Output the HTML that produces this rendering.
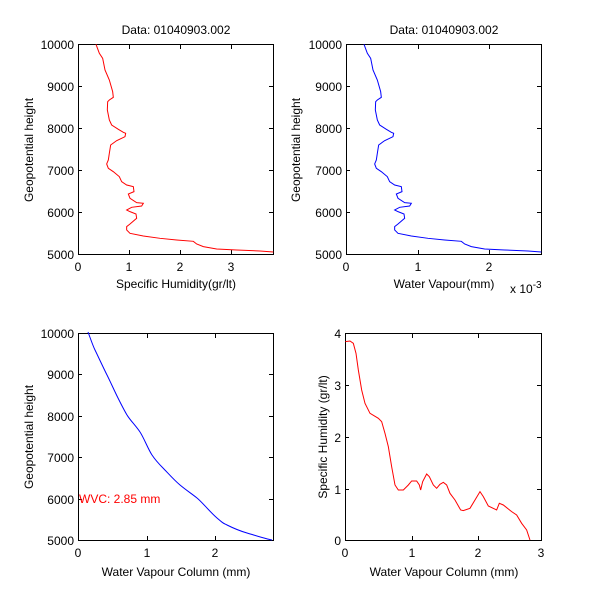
<!DOCTYPE html>
<html><head><style>
body{margin:0;background:#fff;}
svg{font-family:"Liberation Sans",Arial,sans-serif;font-size:12px;}
</style></head><body>
<svg width="600" height="610" viewBox="0 0 600 610" xmlns="http://www.w3.org/2000/svg">
<rect width="600" height="610" fill="#fff"/>
<defs>
<path id="sh" d="M108,73 L118,100 128,115 135,150 148,180 158,215 160,232 148,240 143,245 142,270 148,300 155,315 175,328 190,337 197,340 195,350 170,362 152,375 148,400 145,420 140,432 145,445 160,455 178,470 185,485 200,495 220,500 222,515 205,522 210,535 230,548 250,550 245,558 215,562 200,570 210,575 228,582 230,595 210,612 200,620 200,630 210,640 250,648 300,655 350,660 400,664 410,672 430,680 470,687 530,690 600,693 640,696"/>
</defs>
<g fill="none" stroke="#000" stroke-width="1">
<rect x="78.5" y="44.5" width="195" height="210"/>
<rect x="346.5" y="44.5" width="195" height="210"/>
<rect x="78.5" y="333.5" width="195" height="207"/>
<rect x="345.5" y="333.5" width="196" height="207"/>
<path d="M129.5,254v-4M180.5,254v-4M231.5,254v-4M129.5,45v4M180.5,45v4M231.5,45v4M78,86.5h4M78,128.5h4M78,170.5h4M78,212.5h4M273,86.5h-4M273,128.5h-4M273,170.5h-4M273,212.5h-4"/>
<path d="M418.5,254v-4M489.5,254v-4M418.5,45v4M489.5,45v4M346,86.5h4M346,128.5h4M346,170.5h4M346,212.5h4M541,86.5h-4M541,128.5h-4M541,170.5h-4M541,212.5h-4"/>
<path d="M147.5,540v-4M215.5,540v-4M147.5,334v4M215.5,334v4M78,374.5h4M78,416.5h4M78,457.5h4M78,499.5h4M273,374.5h-4M273,416.5h-4M273,457.5h-4M273,499.5h-4"/>
<path d="M412.5,540v-4M478.5,540v-4M412.5,334v4M478.5,334v4M345,385.5h4M345,437.5h4M345,489.5h4M541,385.5h-4M541,437.5h-4M541,489.5h-4"/>
</g>
<g transform="translate(60,20) scale(0.3333)"><use href="#sh" fill="none" stroke="#f00" stroke-width="3"/></g>
<g transform="translate(328,20) scale(0.3333)"><use href="#sh" fill="none" stroke="#00f" stroke-width="3"/></g>
<path d="M88,332 C91,340 93,346 95,350 S103,367 107,375 S114,390 118,398 S124,410 127,415 S136,426 140,432 S148,449 152,455 S159,464 163,468 S174,480 180,485 S192,494 197,498 S210,512 217,518 S223,523 227,525 S240,531 247,533 S266,539 272,540" fill="none" stroke="#00f"/>
<g transform="translate(330,320) scale(0.3333)"><path d="M46,65 L60,63 70,70 78,100 85,150 95,210 105,250 120,280 145,295 155,305 165,340 175,380 185,440 195,495 205,510 220,510 235,495 245,483 260,483 268,495 272,510 278,485 290,462 298,470 310,495 320,505 330,493 340,487 350,495 360,520 375,540 392,570 400,572 420,565 435,540 450,515 460,530 475,558 500,570 508,550 520,555 545,575 560,585 575,610 590,630 600,660" fill="none" stroke="#f00" stroke-width="3"/></g>
<g fill="#000">
<text x="176" y="34" text-anchor="middle">Data: 01040903.002</text>
<text x="444" y="34" text-anchor="middle">Data: 01040903.002</text>
<g text-anchor="end">
<text x="74" y="49">10000</text><text x="74" y="91">9000</text><text x="74" y="133">8000</text><text x="74" y="175">7000</text><text x="74" y="217">6000</text><text x="74" y="259">5000</text>
<text x="342" y="49">10000</text><text x="342" y="91">9000</text><text x="342" y="133">8000</text><text x="342" y="175">7000</text><text x="342" y="217">6000</text><text x="342" y="259">5000</text>
<text x="74" y="338">10000</text><text x="74" y="379">9000</text><text x="74" y="421">8000</text><text x="74" y="462">7000</text><text x="74" y="504">6000</text><text x="74" y="545">5000</text>
<text x="341" y="338">4</text><text x="341" y="390">3</text><text x="341" y="442">2</text><text x="341" y="494">1</text><text x="341" y="545">0</text>
</g>
<g text-anchor="middle">
<text x="78" y="271">0</text><text x="129" y="271">1</text><text x="180" y="271">2</text><text x="231" y="271">3</text>
<text x="346" y="271">0</text><text x="418" y="271">1</text><text x="489" y="271">2</text>
<text x="78" y="557">0</text><text x="147" y="557">1</text><text x="215" y="557">2</text>
<text x="345" y="557">0</text><text x="412" y="557">1</text><text x="478" y="557">2</text><text x="541" y="557">3</text>
<text x="176" y="288">Specific Humidity(gr/lt)</text>
<text x="444" y="288">Water Vapour(mm)</text>
<text x="176" y="576">Water Vapour Column (mm)</text>
<text x="444" y="576">Water Vapour Column (mm)</text>
<text transform="translate(33,150) rotate(-90)">Geopotential height</text>
<text transform="translate(300,150) rotate(-90)">Geopotential height</text>
<text transform="translate(33,437) rotate(-90)">Geopotential height</text>
<text transform="translate(327,437) rotate(-90)">Specific Humidity (gr/lt)</text>
</g>
<text x="510" y="293">x 10<tspan dy="-5" font-size="10">-3</tspan></text>
<text x="79" y="503" fill="#f00">WVC: 2.85 mm</text>
</g>
</svg>
</body></html>
